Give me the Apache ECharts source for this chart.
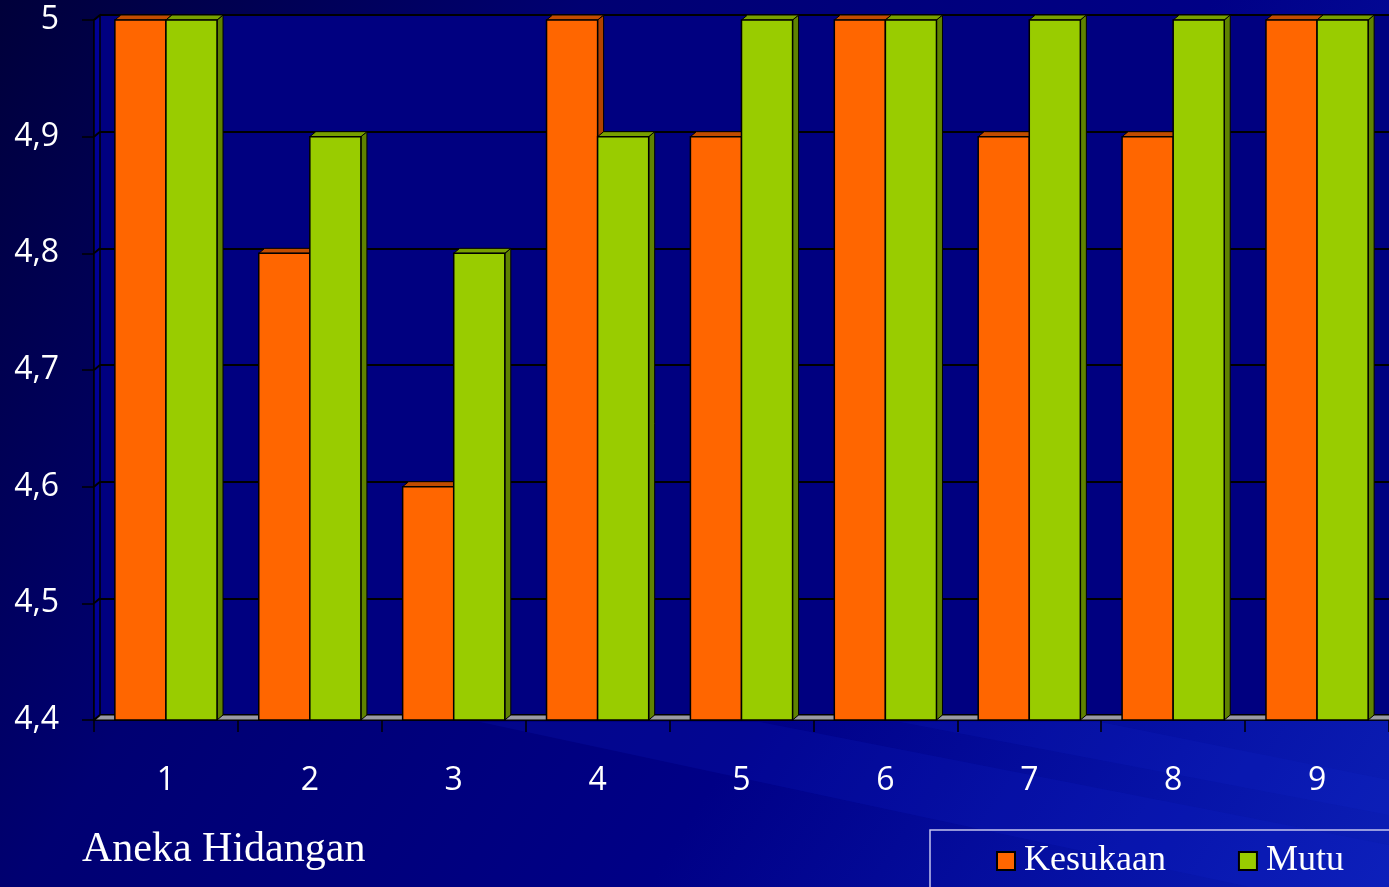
<!DOCTYPE html>
<html>
<head>
<meta charset="utf-8">
<script src="https://cdn.jsdelivr.net/npm/echarts@6/dist/echarts.min.js"></script>
<style>
html,body{margin:0;padding:0;width:1389px;height:887px;overflow:hidden;background:#000060;}
#c{width:1389px;height:887px;}
</style>
</head>
<body>
<div id="c"></div>
<script>
// ---- data ----
var categories = ['1','2','3','4','5','6','7','8','9'];
var kesukaan = [5, 4.8, 4.6, 5, 4.9, 5, 4.9, 4.9, 5];
var mutu = [5, 4.9, 4.8, 4.9, 5, 5, 5, 5, 5];
var yTicks = [4.4, 4.5, 4.6, 4.7, 4.8, 4.9, 5];
var seriesNames = ['Kesukaan', 'Mutu'];
var xTitle = 'Aneka Hidangan';

var Y_MIN = 4.4, Y_MAX = 5, Y_INT = 0.1;
var DX = 6, DY = 5; // 3D depth

function fmt(v){ return String(Number(Number(v).toFixed(1))).replace('.', ','); }

function barRenderer(side, colors){
  return function(params, api){
    var idx = api.value(0), v = api.value(1);
    var top = api.coord([idx, v]);
    var bot = api.coord([idx, Y_MIN]);
    var cw = api.size([1, 0])[0];
    var w = cw * 0.355;
    var x0 = side < 0 ? top[0] - w : top[0];
    var x1 = x0 + w;
    var yT = top[1], yB = bot[1];
    return {type:'group', children:[
      {type:'polygon', shape:{points:[[x1,yT],[x1+DX,yT-DY],[x1+DX,yB-DY],[x1,yB]]},
        style:{fill:colors.side, stroke:'#000', lineWidth:1}},
      {type:'polygon', shape:{points:[[x0,yT],[x1,yT],[x1+DX,yT-DY],[x0+DX,yT-DY]]},
        style:{fill:colors.top, stroke:'#000', lineWidth:1}},
      {type:'rect', shape:{x:x0, y:yT, width:w, height:yB-yT},
        style:{fill:colors.front, stroke:'#000', lineWidth:1.5}}
    ]};
  };
}

function wallRenderer(params, api){
  var cs = params.coordSys;
  var x = cs.x, y = cs.y, w = cs.width, h = cs.height;
  var children = [
    {type:'polygon', shape:{points:[[x,y],[x+DX,y-DY],[x+DX,y+h-DY],[x,y+h]]},
      style:{fill:'#000096', stroke:'#000', lineWidth:1.5}},
    {type:'polygon', shape:{points:[[x,y+h],[x+w,y+h],[x+w+DX,y+h-DY],[x+DX,y+h-DY]]},
      style:{fill:'#9a9aa4', stroke:'#000', lineWidth:1}}
  ];
  yTicks.forEach(function(t){
    var p = api.coord([0, t]);
    children.push({type:'line', shape:{x1:x, y1:p[1], x2:x+DX, y2:p[1]-DY},
      style:{stroke:'#000', lineWidth:2}});
  });
  return {type:'group', children:children};
}

var chart = echarts.init(document.getElementById('c'), null, {renderer:'canvas'});
var option = {
  animation:false,
  backgroundColor: new echarts.graphic.LinearGradient(0, 0, 1, 1, [
    {offset:0, color:'#00003a'},
    {offset:0.3, color:'#000072'},
    {offset:0.62, color:'#000086'},
    {offset:0.85, color:'#0612a6'},
    {offset:1, color:'#0c1fb6'}
  ]),
  graphic:[
    {type:'polygon', z:-10, silent:true, shape:{points:[[480,722],[760,722],[1389,845],[1389,887],[1250,887]]},
      style:{fill:'rgba(20,40,210,0.16)'}},
    {type:'polygon', z:-10, silent:true, shape:{points:[[900,722],[1100,722],[1389,780],[1389,815]]},
      style:{fill:'rgba(20,40,210,0.14)'}},
    {type:'rect', z:5, silent:true, shape:{x:930, y:830, width:520, height:120},
      style:{fill:'rgba(0,0,0,0)', stroke:'#c4c4ee', lineWidth:1.5}}
  ],
  title:{
    text: xTitle, left:77, top:824,
    textStyle:{color:'#ffffff', fontFamily:'Liberation Serif', fontSize:42, fontWeight:'normal'}
  },
  legend:{
    data:[
      {name:seriesNames[0], itemStyle:{color:'#FF6600', borderColor:'#000', borderWidth:2}},
      {name:seriesNames[1], itemStyle:{color:'#99CC00', borderColor:'#000', borderWidth:2}}
    ],
    icon:'rect',
    left:996, top:843,
    padding:0,
    itemWidth:18, itemHeight:18, itemGap:72,
    textStyle:{color:'#ffffff', fontFamily:'Liberation Serif', fontSize:36, padding:[0,0,0,4]}
  },
  grid:[
    {left:94, top:20, width:1295, height:700, show:true, backgroundColor:'#000080', borderWidth:0},
    {left:100, top:15, width:1295, height:700, show:true, backgroundColor:'#000080', borderWidth:0}
  ],
  xAxis:[
    {type:'category', gridIndex:0, data:categories, boundaryGap:true,
      axisLine:{show:true, lineStyle:{color:'#000', width:1.5}},
      axisTick:{show:true, length:12, lineStyle:{color:'#000', width:1.5}},
      axisLabel:{color:'#ffffff', fontSize:32, fontFamily:'Open Sans', margin:45}},
    {type:'category', gridIndex:1, data:categories, show:false}
  ],
  yAxis:[
    {type:'value', gridIndex:0, min:Y_MIN, max:Y_MAX, interval:Y_INT,
      axisLine:{show:true, lineStyle:{color:'#000', width:1.5}},
      axisTick:{show:true, length:12, lineStyle:{color:'#000', width:1.5}},
      splitLine:{show:false},
      axisLabel:{color:'#ffffff', fontSize:32, fontFamily:'Open Sans', margin:35, formatter:fmt}},
    {type:'value', gridIndex:1, min:Y_MIN, max:Y_MAX, interval:Y_INT,
      axisLine:{show:false}, axisTick:{show:false}, axisLabel:{show:false},
      splitLine:{show:true, lineStyle:{color:'#000', width:2}}}
  ],
  series:[
    {type:'custom', name:'_wall', xAxisIndex:0, yAxisIndex:0, z:1, silent:true,
      data:[[0, Y_MIN]], encode:{x:0, y:1}, renderItem:wallRenderer},
    {type:'custom', name:seriesNames[0], xAxisIndex:0, yAxisIndex:0, z:2,
      itemStyle:{color:'#FF6600'},
      data:kesukaan.map(function(v,i){return [i, v];}), encode:{x:0, y:1},
      renderItem:barRenderer(-1, {front:'#FF6600', top:'#C24C00', side:'#B04200'})},
    {type:'custom', name:seriesNames[1], xAxisIndex:0, yAxisIndex:0, z:3,
      itemStyle:{color:'#99CC00'},
      data:mutu.map(function(v,i){return [i, v];}), encode:{x:0, y:1},
      renderItem:barRenderer(1, {front:'#99CC00', top:'#78A000', side:'#5F8200'})}
  ]
};
chart.setOption(option);
</script>
</body>
</html>
